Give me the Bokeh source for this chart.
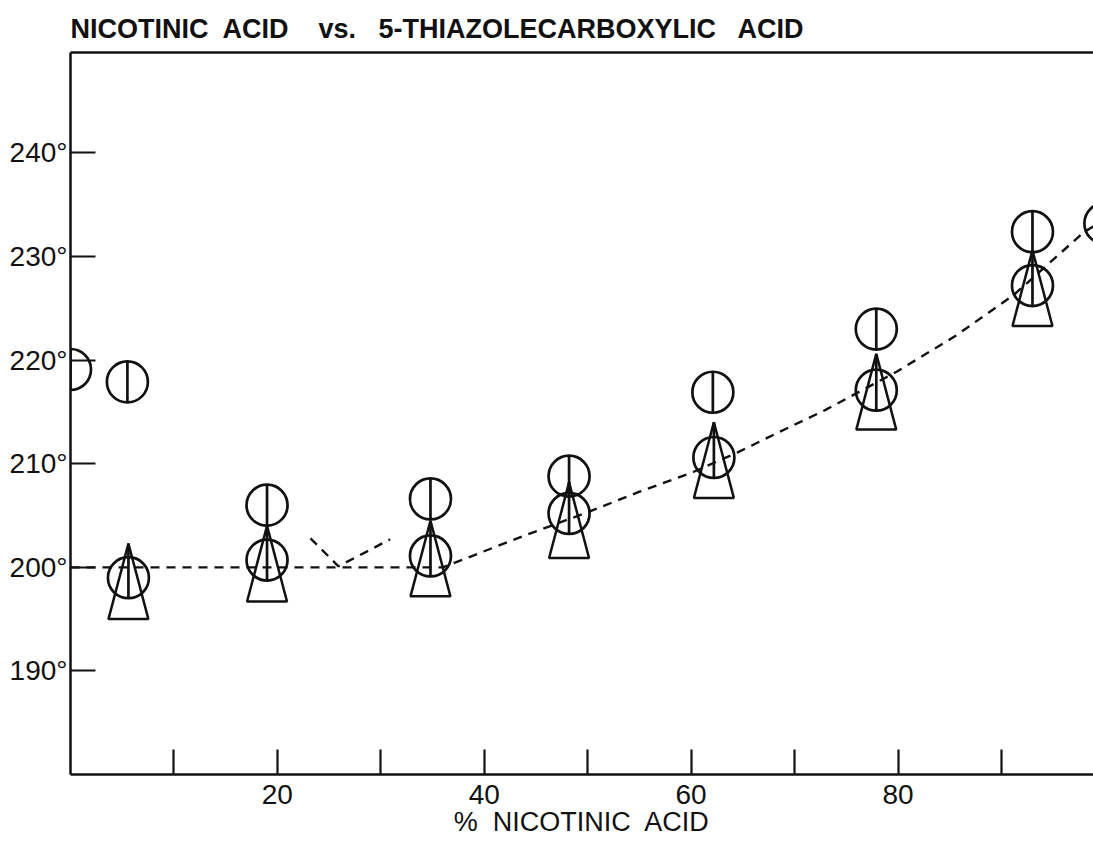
from bokeh.plotting import figure
from bokeh.models import FixedTicker, LinearAxis, Range1d
from bokeh.embed import file_html
from bokeh.resources import INLINE

# Composition (% nicotinic acid) and temperatures (deg C)
# Upper points: circle with vertical bar
pct_upper = [0.0, 5.5, 19.0, 34.8, 48.2, 62.1, 77.9, 93.0, 100.0]
temp_upper = [219.1, 217.9, 206.0, 206.6, 208.8, 216.9, 223.0, 232.4, 233.2]

# Lower points: circle with bar, overlaid by a triangle whose apex is given separately
pct_lower = [5.6, 19.0, 34.8, 48.2, 62.2, 77.9, 93.0]
temp_lower = [199.0, 200.7, 201.1, 205.2, 210.6, 217.1, 227.2]
temp_triangle_apex = [202.3, 204.0, 204.5, 208.2, 214.0, 220.6, 230.6]

# Dashed curve through the lower points
curve_pct = [0, 36, 39.6, 44, 50.2, 55, 60.2, 64.5, 68.6, 73, 79.9, 85.5, 91.2, 97.9, 100]
curve_temp = [200, 200, 201.4, 203.1, 205.4, 207.3, 209.2, 211.1, 213.1, 215.2, 218.9, 222.3, 226.3, 232.3, 233.6]

# Dashed "V" at the eutectic
eutectic_pct = [23.2, 25.9, 30.9]
eutectic_temp = [202.8, 200.1, 202.7]

x_ticks = [10, 20, 30, 40, 50, 60, 70, 80, 90]
x_tick_labels = ["", "20", "", "40", "", "60", "", "80", ""]
y_ticks = [190, 200, 210, 220, 230, 240]
y_tick_labels = ["190°", "200°", "210°", "220°", "230°", "240°"]

FONT = "Liberation Sans"
INK = "#111111"

# marker geometry (data units)
circle_r = 2.0          # half of the circle diameter on the y scale
tri_half_w = 1.93
tri_height = 7.3

p = figure(width=1093, height=842, output_backend="svg", toolbar_location=None,
           x_range=Range1d(0, 98.9), y_range=Range1d(180, 249.7),
           min_border_left=70, min_border_right=0, min_border_top=52, min_border_bottom=68,
           outline_line_color=None, background_fill_color="white", border_fill_color="white")

p.title.text = "NICOTINIC\u00a0 ACID\u00a0\u00a0\u00a0 vs.\u00a0\u00a0 5-THIAZOLECARBOXYLIC\u00a0\u00a0 ACID"
p.title.text_font = FONT
p.title.text_font_size = "27px"
p.title.text_font_style = "bold"
p.title.text_color = INK
p.title.align = "left"
p.title.standoff = 18

p.grid.visible = False

# bottom axis
p.xaxis.ticker = FixedTicker(ticks=x_ticks)
p.xaxis.major_label_overrides = {t: lab for t, lab in zip(x_ticks, x_tick_labels)}
p.xaxis.axis_label = "%\u00a0 NICOTINIC\u00a0 ACID"
p.xaxis.axis_label_text_font = FONT
p.xaxis.axis_label_text_font_size = "27px"
p.xaxis.axis_label_text_font_style = "normal"
p.xaxis.axis_label_standoff = 0
p.xaxis.major_label_standoff = 10

# left axis
p.yaxis.ticker = FixedTicker(ticks=y_ticks)
p.yaxis.major_label_overrides = {t: lab for t, lab in zip(y_ticks, y_tick_labels)}
p.yaxis.major_label_standoff = 3

for ax in (p.xaxis[0], p.yaxis[0]):
    ax.axis_line_width = 2.5
    ax.axis_line_color = INK
    ax.major_tick_in = 25
    ax.major_tick_out = 0
    ax.major_tick_line_width = 2.2
    ax.major_tick_line_color = INK
    ax.minor_tick_line_color = None
    ax.major_label_text_font = FONT
    ax.major_label_text_font_size = "28px"
    ax.major_label_text_color = INK
    ax.axis_label_text_color = INK

# top border
top = LinearAxis(ticker=FixedTicker(ticks=[]), axis_line_width=2.5, axis_line_color=INK,
                 major_tick_line_color=None, minor_tick_line_color=None,
                 major_label_text_font_size="0px", major_label_standoff=0)
p.add_layout(top, "above")

# curves
p.line(curve_pct, curve_temp, line_color=INK, line_width=2.4, line_dash="9 7")
p.line(eutectic_pct, eutectic_temp, line_color=INK, line_width=2.4, line_dash="9 7")

# triangles
tri_xs = [[x - tri_half_w, x, x + tri_half_w] for x in pct_lower]
tri_ys = [[a - tri_height, a, a - tri_height] for a in temp_triangle_apex]
p.patches(tri_xs, tri_ys, fill_color=None, line_color=INK, line_width=2.5)

# circles
p.scatter(pct_upper, temp_upper, marker="circle", size=41, fill_color=None,
          line_color=INK, line_width=2.7)
p.scatter(pct_lower, temp_lower, marker="circle", size=41, fill_color=None,
          line_color=INK, line_width=2.7)

# vertical bars
p.segment(pct_upper, [t - circle_r for t in temp_upper], pct_upper,
          [t + circle_r for t in temp_upper], line_color=INK, line_width=2.7)
p.segment(pct_lower, [t - circle_r for t in temp_lower], pct_lower,
          temp_triangle_apex, line_color=INK, line_width=2.7)

open("out.html", "w").write(file_html(p, INLINE))
